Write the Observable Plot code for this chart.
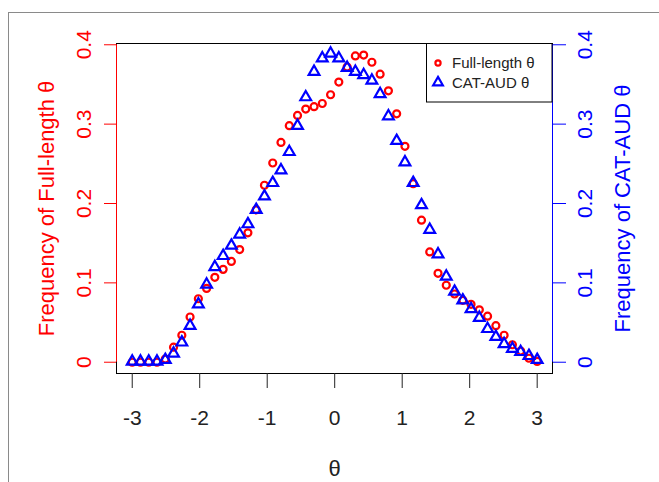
<!DOCTYPE html>
<html><head><meta charset="utf-8">
<script src="https://cdn.jsdelivr.net/npm/d3@7"></script>
<script src="https://cdn.jsdelivr.net/npm/@observablehq/plot@0.6"></script>
<style>
body{margin:0;background:#fff;}
#wrap{position:relative;width:659px;height:482px;overflow:hidden;background:#fff;}
#border{position:absolute;left:8px;top:12px;width:700px;height:600px;border-left:1px solid #8a8a8a;border-top:1px solid #8a8a8a;}
#chart{position:absolute;left:0;top:0;}
</style></head><body>
<div id="wrap"><div id="border"></div><div id="chart"></div></div>
<script>
// θ grid (50 points from -3 to 3)
const theta = [-3.000, -2.878, -2.755, -2.633, -2.510, -2.388, -2.265, -2.143, -2.020, -1.898,
  -1.776, -1.653, -1.531, -1.408, -1.286, -1.163, -1.041, -0.918, -0.796, -0.673,
  -0.551, -0.429, -0.306, -0.184, -0.061, 0.061, 0.184, 0.306, 0.429, 0.551,
  0.673, 0.796, 0.918, 1.041, 1.163, 1.286, 1.408, 1.531, 1.653, 1.776,
  1.898, 2.020, 2.143, 2.265, 2.388, 2.510, 2.633, 2.755, 2.878, 3.000];
// Frequency of Full-length θ (red circles)
const fullLength = [0, 0, 0, 0, 0.004, 0.019, 0.034, 0.057, 0.080, 0.093,
  0.107, 0.117, 0.127, 0.142, 0.163, 0.192, 0.223, 0.251, 0.277, 0.298,
  0.311, 0.319, 0.322, 0.326, 0.337, 0.353, 0.372, 0.386, 0.387, 0.378,
  0.363, 0.342, 0.313, 0.272, 0.225, 0.179, 0.139, 0.112, 0.097, 0.086,
  0.078, 0.073, 0.066, 0.058, 0.046, 0.034, 0.022, 0.014, 0.005, 0.001];
// Frequency of CAT-AUD θ (blue triangles)
const catAud = [0.001, 0.001, 0.001, 0.001, 0.003, 0.011, 0.025, 0.046, 0.073, 0.098,
  0.120, 0.134, 0.147, 0.161, 0.174, 0.192, 0.209, 0.226, 0.242, 0.265,
  0.298, 0.334, 0.366, 0.383, 0.389, 0.383, 0.371, 0.366, 0.362, 0.355,
  0.338, 0.310, 0.279, 0.252, 0.226, 0.198, 0.167, 0.136, 0.108, 0.089,
  0.078, 0.067, 0.056, 0.042, 0.032, 0.023, 0.017, 0.013, 0.008, 0.003];
const xTicks = [-3, -2, -1, 0, 1, 2, 3];
const yTicks = [0, 0.1, 0.2, 0.3, 0.4];
const seriesNames = ["Full-length θ", "CAT-AUD θ"];
const leftTitle = "Frequency of Full-length θ";
const rightTitle = "Frequency of CAT-AUD θ";
const xTitle = "θ";

const full = theta.map((t, i) => ({theta: t, freq: fullLength[i]}));
const cat = theta.map((t, i) => ({theta: t, freq: catAud[i]}));

const xDomain = [-3.233, 3.227];
const yDomain = [-0.0142, 0.4016];
const font = "'Liberation Sans', Arial, sans-serif";
const fmtNum = d => (d < 0 ? "-" + Math.abs(d) : String(d));

const chart = Plot.plot({
  width: 659, height: 482,
  marginLeft: 116, marginRight: 107, marginTop: 43, marginBottom: 109,
  style: {fontFamily: font, background: "transparent", overflow: "visible"},
  x: {domain: xDomain},
  y: {domain: yDomain},
  marks: [
    Plot.frame({stroke: "black", strokeWidth: 1}),
    Plot.axisX({ticks: xTicks, tickSize: 15, tickPadding: 22, fontSize: 21, tickFormat: fmtNum, label: null, color: "#222"}),
    Plot.axisY({anchor: "left", ticks: yTicks, tickSize: 12, tickPadding: 14, tickRotate: -90, fontSize: 21, tickFormat: fmtNum, label: null, color: "red"}),
    Plot.axisY({anchor: "right", ticks: yTicks, tickSize: 13, tickPadding: 26, tickRotate: -90, fontSize: 21, tickFormat: fmtNum, label: null, color: "blue"}),
    Plot.ruleX([xDomain[0]], {y1: 0, y2: 0.4, stroke: "red"}),
    Plot.ruleX([xDomain[1]], {y1: 0, y2: 0.4, stroke: "blue"}),
    Plot.dot(full, {x: "theta", y: "freq", r: 3.5, symbol: "circle", stroke: "red", strokeWidth: 2.2, fill: "none"}),
    Plot.dot(cat, {x: "theta", y: "freq", r: 4, symbol: "triangle", stroke: "blue", strokeWidth: 2.2, fill: "none", strokeLinejoin: "miter"}),
    Plot.text([leftTitle], {text: d => d, frameAnchor: "left", dx: -70, rotate: -90, textAnchor: "middle", lineAnchor: "middle", fill: "red", fontSize: 22}),
    Plot.text([rightTitle], {text: d => d, frameAnchor: "right", dx: 70, rotate: -90, textAnchor: "middle", lineAnchor: "middle", fill: "blue", fontSize: 22}),
    Plot.text([xTitle], {text: d => d, frameAnchor: "bottom", dy: 95, textAnchor: "middle", lineAnchor: "middle", fill: "#222", fontSize: 22})
  ]
});

// legend (top-right inside the plot box)
const svg = d3.select(chart);
const lg = svg.append("g").attr("font-family", font).attr("font-size", 15).attr("text-anchor", "start");
lg.append("rect").attr("x", 426.5).attr("y", 43.5).attr("width", 125.5).attr("height", 58.5)
  .attr("fill", "white").attr("stroke", "black");
lg.append("path").attr("d", d3.symbol(d3.symbolCircle, Math.PI * 2.6 * 2.6)())
  .attr("transform", "translate(438,63)").attr("fill", "none").attr("stroke", "red").attr("stroke-width", 2.2);
lg.append("path").attr("d", d3.symbol(d3.symbolTriangle, Math.PI * 3.6 * 3.6)())
  .attr("transform", "translate(438,82.5)").attr("fill", "none").attr("stroke", "blue").attr("stroke-width", 2.2);
lg.append("text").attr("x", 452).attr("y", 63).attr("dy", "0.35em").attr("fill", "#222").text(seriesNames[0]);
lg.append("text").attr("x", 452).attr("y", 83).attr("dy", "0.35em").attr("fill", "#222").text(seriesNames[1]);

document.getElementById("chart").appendChild(chart);
</script>
</body></html>
